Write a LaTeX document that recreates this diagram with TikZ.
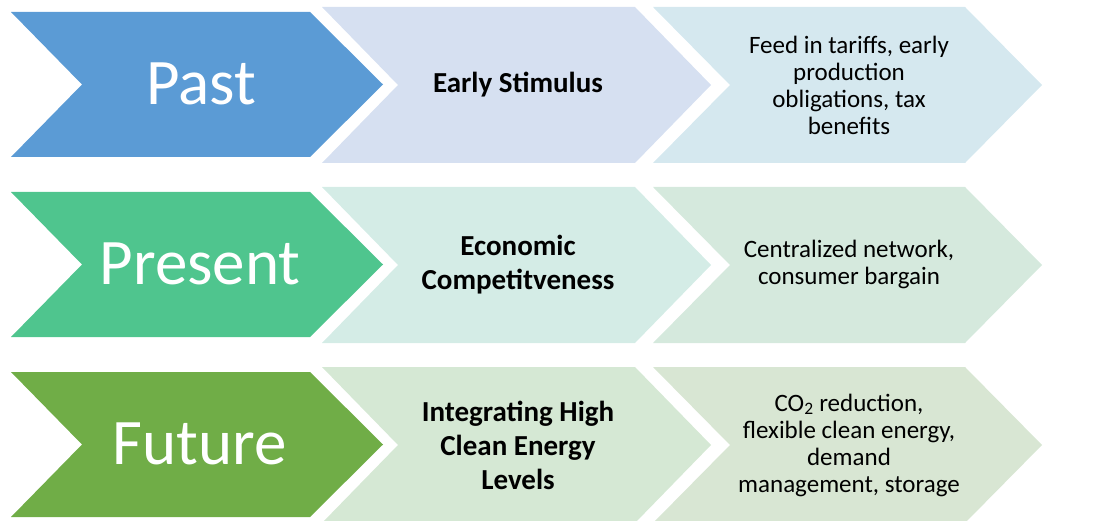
\documentclass[tikz,border=0pt]{standalone}
\usepackage{fontspec}
\setmainfont{Carlito}
\definecolor{pastc}{HTML}{5B9BD5}
\definecolor{pastm}{HTML}{D6E0F1}
\definecolor{pastr}{HTML}{D5E8EF}
\definecolor{presc}{HTML}{4FC58E}
\definecolor{presm}{HTML}{D4ECE6}
\definecolor{presr}{HTML}{D5E9DD}
\definecolor{futc}{HTML}{70AD47}
\definecolor{futm}{HTML}{D5E8D4}
\definecolor{futr}{HTML}{D8E6D3}
\tikzset{
  bigtext/.style={text=white, font=\fontsize{65}{70}\selectfont, inner sep=0pt},
  midtext/.style={text=black, font=\fontsize{29}{34}\bfseries\selectfont, align=center, inner sep=0pt},
  rtext/.style={text=black, font=\fontsize{25}{27}\selectfont, align=center, inner sep=0pt},
}
% big chevron: top y
\newcommand{\bigchev}[2]{\fill[#2] (11,#1) -- (310,#1) -- (383,#1+72.5) -- (310,#1+145) -- (11,#1+145) -- (82,#1+72.5) -- cycle;}
\newcommand{\midchev}[2]{\fill[#2] (322,#1) -- (635,#1) -- (711,#1+78) -- (635,#1+156) -- (322,#1+156) -- (398,#1+78) -- cycle;}
\newcommand{\rchev}[2]{\fill[#2] (653,#1) -- (965,#1) -- (1042,#1+78) -- (965,#1+156) -- (653,#1+156) -- (730,#1+78) -- cycle;}
\begin{document}
\begin{tikzpicture}[x=1pt,y=-1pt]
\useasboundingbox (0,0) rectangle (1103,521);
\begin{scope}
\clip (0,0) rectangle (1103,521);
% row 1
\bigchev{12}{pastc}
\midchev{7}{pastm}
\rchev{7}{pastr}
% row 2
\bigchev{192}{presc}
\midchev{187}{presm}
\rchev{187}{presr}
% row 3
\bigchev{372}{futc}
\midchev{367}{futm}
\rchev{367}{futr}
\end{scope}
\node[bigtext] (past) at (201,84) {Past};
\node[bigtext] (present) at (200,264) {Present};
\node[bigtext] (future) at (200,444) {Future};
\node[midtext] (m1) at (518,85) {Early Stimulus};
\node[midtext] (m2) at (518,265) {Economic\\Competitveness};
\node[midtext] (m3) at (518,445) {Integrating High\\Clean Energy\\Levels};
\node[rtext] (r1) at (849,85) {Feed in tariffs, early\\production\\obligations, tax\\benefits};
\node[rtext] (r2) at (849,264) {Centralized network,\\consumer bargain};
\node[rtext] (r3) at (849,445) {CO\textsubscript{2} reduction,\\flexible clean energy,\\demand\\management, storage};
\end{tikzpicture}
\end{document}
